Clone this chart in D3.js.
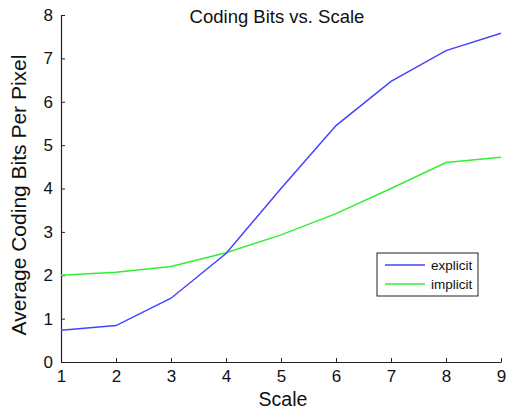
<!DOCTYPE html>
<html>
<head>
<meta charset="utf-8">
<script src="https://cdn.jsdelivr.net/npm/d3@7"></script>
<style>
  body { margin: 0; background: #fff; }
  text { font-family: "Liberation Sans", Arial, sans-serif; fill: #111; }
</style>
</head>
<body>
<div id="chart"></div>
<script>
const scales = [1, 2, 3, 4, 5, 6, 7, 8, 9];
const explicitBits = [0.73, 0.84, 1.47, 2.5, 4.0, 5.45, 6.47, 7.18, 7.58];
const implicitBits = [2.0, 2.07, 2.2, 2.52, 2.93, 3.42, 4.0, 4.6, 4.72];
const yTicks = [0, 1, 2, 3, 4, 5, 6, 7, 8];

const width = 506;
const height = 409;
const margin = { top: 15, right: 5, bottom: 47, left: 61 };

const svg = d3.select("#chart")
  .append("svg")
  .attr("width", width)
  .attr("height", height);

const x = d3.scaleLinear()
  .domain([1, 9])
  .range([margin.left, width - margin.right]);

const y = d3.scaleLinear()
  .domain([0, 8])
  .range([height - margin.bottom, margin.top]);

// axes, ticks pointing inward like matlab
const xAxis = svg.append("g")
  .attr("transform", `translate(0,${height - margin.bottom})`)
  .call(d3.axisBottom(x).tickValues(scales).tickSizeInner(-4).tickSizeOuter(0).tickPadding(8));

const yAxis = svg.append("g")
  .attr("transform", `translate(${margin.left},0)`)
  .call(d3.axisLeft(y).tickValues(yTicks).tickSizeInner(-4).tickSizeOuter(0).tickPadding(8));

[xAxis, yAxis].forEach((g) => {
  g.select(".domain").attr("stroke", "#222").attr("stroke-width", 1.2);
  g.selectAll(".tick line").attr("stroke", "#222");
  g.selectAll(".tick text").attr("font-size", 17).attr("fill", "#111");
});

const line = (vals) => d3.line()
  .x((d, i) => x(scales[i]))
  .y((d) => y(d))(vals);

svg.append("path")
  .attr("d", line(implicitBits))
  .attr("fill", "none")
  .attr("stroke", "#33ee33")
  .attr("stroke-width", 1.5);

svg.append("path")
  .attr("d", line(explicitBits))
  .attr("fill", "none")
  .attr("stroke", "#4444ff")
  .attr("stroke-width", 1.5);

// title and labels
svg.append("text")
  .attr("x", 277)
  .attr("y", 23)
  .attr("text-anchor", "middle")
  .attr("font-size", 18.5)
  .text("Coding Bits vs. Scale");

svg.append("text")
  .attr("x", 283)
  .attr("y", 406)
  .attr("text-anchor", "middle")
  .attr("font-size", 19.5)
  .text("Scale");

svg.append("text")
  .attr("transform", "translate(26,195) rotate(-90)")
  .attr("text-anchor", "middle")
  .attr("font-size", 21)
  .text("Average Coding Bits Per Pixel");

// legend
const legend = svg.append("g").attr("transform", "translate(377,253)");
legend.append("rect")
  .attr("width", 101)
  .attr("height", 43)
  .attr("fill", "#fff")
  .attr("stroke", "#222");

const series = [
  { name: "explicit", color: "#4444ff" },
  { name: "implicit", color: "#33ee33" }
];
series.forEach((s, i) => {
  const yy = 12 + i * 19;
  legend.append("line")
    .attr("x1", 8).attr("x2", 48)
    .attr("y1", yy).attr("y2", yy)
    .attr("stroke", s.color)
    .attr("stroke-width", 1.5);
  legend.append("text")
    .attr("x", 54)
    .attr("y", yy + 4.5)
    .attr("font-size", 13.5)
    .text(s.name);
});
</script>
</body>
</html>
